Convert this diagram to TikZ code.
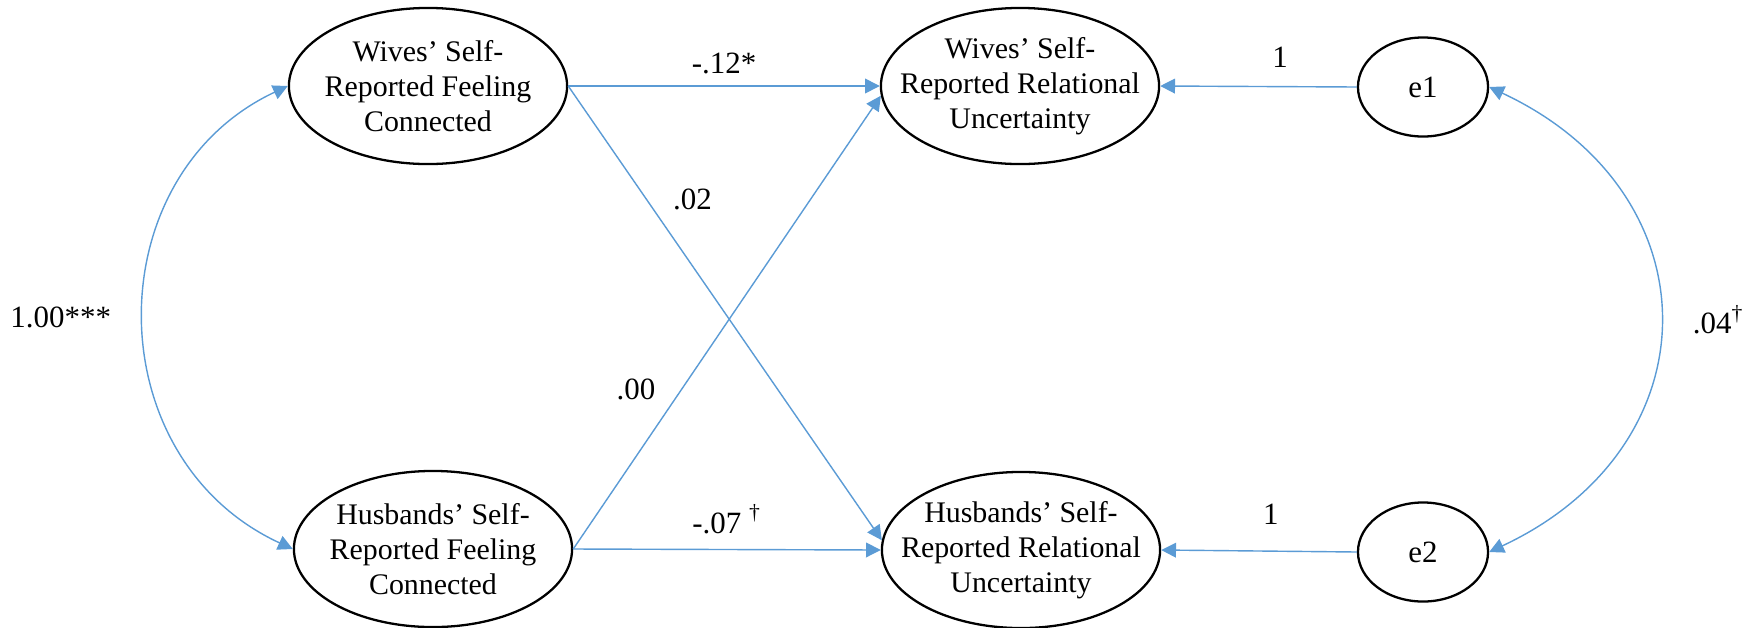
\documentclass[tikz,border=0pt]{standalone}
\usepackage{fontspec}
\setmainfont{Liberation Serif}
\usetikzlibrary{arrows.meta,shapes.geometric}

\definecolor{pathblue}{RGB}{91,155,213}

\begin{document}
\begin{tikzpicture}[x=0.01cm,y=-0.01cm,->,>={Triangle[length=4.2pt,width=4.2pt]},
  latent/.style={ellipse,draw,line width=0.65pt,minimum width=2.78cm,minimum height=1.56cm,
    inner xsep=-3mm,inner ysep=0pt,align=center,font=\fontsize{8.5}{10}\selectfont},
  error/.style={ellipse,draw,line width=0.65pt,minimum width=1.3cm,minimum height=0.99cm,
    inner sep=0pt,font=\fontsize{8.8}{10}\selectfont},
  coef/.style={text=black,font=\fontsize{8.8}{10}\selectfont}]

  \useasboundingbox (0,0) rectangle (1758,627);

  \node[latent] (wf) at (428,86) {Wives’ Self-\\Reported Feeling\\Connected};
  \node[latent] (hf) at (433,549) {Husbands’ Self-\\Reported Feeling\\Connected};
  \node[latent] (wu) at (1020,86) {Wives’ Self-\\Reported Relational\\Uncertainty};
  \node[latent] (hu) at (1021,550) {Husbands’ Self-\\Reported Relational\\Uncertainty};
  \node[error] (e1) at (1423,87) {e1};
  \node[error] (e2) at (1423,552) {e2};

  % paths
  \path[pathblue,line width=0.4pt,every node/.style=coef]
    (wf.east) edge node[above] {-.12*} (wu.west)
    (wf.east) edge node[pos=0.25,right=4pt] {.02} (hu.176)
    (hf.east) edge node[pos=0.353,left=4pt] {.00} (wu.184)
    (hf.east) edge node[above=1pt] {-.07 \textsuperscript{†}} (hu.west)
    (e1.west) edge node[pos=0.39,above=2pt] {1} (wu.east)
    (e2.west) edge node[pos=0.44,above=4pt] {1} (hu.east);

  % covariances
  \draw[pathblue,line width=0.4pt,<->] (wf.west) .. controls (96,176) and (96,458) ..
    node[coef,left=6pt] {1.00***} (hf.west);
  \draw[pathblue,line width=0.4pt,<->] (e1.east) .. controls (1716,193) and (1716,446) ..
    node[coef,right=6pt] {.04\textsuperscript{†}} (e2.east);

\end{tikzpicture}
\end{document}
